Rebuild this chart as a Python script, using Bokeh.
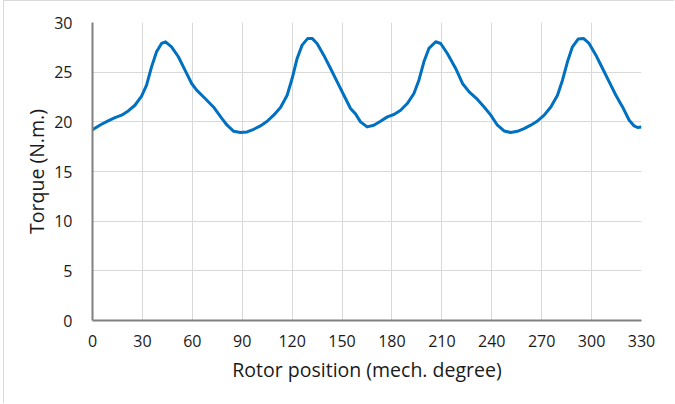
from bokeh.plotting import figure
from bokeh.models import Range1d, FixedTicker
from bokeh.embed import file_html
from bokeh.resources import INLINE

# Rotor position (mech. degree)
position = [0, 5.4, 9.4, 13.5, 17.5, 21.5, 25.5, 29.5, 32.5, 35.5, 38.5, 41.5, 43.9, 47.5,
            51.6, 55.6, 59.6, 62.6, 67.7, 72.7, 77.5, 80.9, 84.9, 88.9, 92.9, 96.9, 100.9,
            105, 108.9, 113, 117, 120, 123, 126, 129.4, 132, 135, 139, 143.1, 147.1, 151.1,
            155.1, 158.1, 161.1, 165.1, 169.1, 173.1, 177.2, 181.2, 185.2, 189.2, 193.2,
            196.2, 199.2, 202.2, 206.3, 209.3, 213.3, 218.3, 222.4, 226.4, 231.4, 235.4,
            239.4, 243.4, 247.4, 251.4, 255.4, 259.4, 263.4, 267.5, 271.5, 275.5, 279.5,
            282.5, 285.5, 288.5, 291.9, 295.1, 298.5, 302.6, 306.6, 310.6, 314.6, 318.6,
            322.6, 325.6, 327.6, 330]
# Torque (N.m.)
torque = [19.2, 19.76, 20.1, 20.43, 20.67, 21.1, 21.67, 22.58, 23.69, 25.53, 27.05, 27.89,
          28.06, 27.55, 26.55, 25.2, 23.86, 23.19, 22.35, 21.5, 20.4, 19.66, 19.05, 18.92,
          18.98, 19.25, 19.59, 20.06, 20.67, 21.44, 22.68, 24.36, 26.38, 27.72, 28.4, 28.4,
          27.89, 26.71, 25.37, 24.02, 22.68, 21.34, 20.8, 20.0, 19.49, 19.66, 20.06, 20.5,
          20.74, 21.17, 21.84, 22.85, 24.19, 26.04, 27.39, 28.06, 27.89, 26.88, 25.37, 23.86,
          23.01, 22.25, 21.5, 20.67, 19.66, 19.08, 18.92, 19.05, 19.32, 19.66, 20.09, 20.67,
          21.5, 22.68, 24.19, 26.04, 27.55, 28.33, 28.4, 27.89, 26.71, 25.37, 24.02, 22.68,
          21.5, 20.16, 19.59, 19.43, 19.49]

x_ticks = [0, 30, 60, 90, 120, 150, 180, 210, 240, 270, 300, 330]
y_ticks = [0, 5, 10, 15, 20, 25, 30]

FONT = "Open Sans"

p = figure(width=671, height=403, output_backend="svg", toolbar_location=None,
           x_range=Range1d(0, 330), y_range=Range1d(0, 30),
           min_border_left=88, min_border_right=34, min_border_top=21, min_border_bottom=84)
p.outline_line_color = None
p.background_fill_color = "white"
p.border_fill_color = "white"

p.line(position, torque, line_color="#0070C0", line_width=3, line_join="round")

for ax, ticks in ((p.xaxis, x_ticks), (p.yaxis, y_ticks)):
    ax.ticker = FixedTicker(ticks=ticks)
    ax.axis_line_color = "#808080"
    ax.axis_line_width = 2
    ax.major_tick_line_color = None
    ax.minor_tick_line_color = None
    ax.major_label_text_font = FONT
    ax.major_label_text_font_size = "16px"
    ax.major_label_text_color = "#1a1a1a"
    ax.axis_label_text_font = FONT
    ax.axis_label_text_font_size = "19.5px"
    ax.axis_label_text_font_style = "normal"
    ax.axis_label_text_color = "#1a1a1a"

p.xaxis.axis_label = "Rotor position (mech. degree)"
p.yaxis.axis_label = "Torque (N.m.)"
p.xaxis.major_label_standoff = 8
p.yaxis.major_label_standoff = 14
p.xaxis.axis_label_standoff = 6
p.yaxis.axis_label_standoff = 1

p.xgrid.ticker = FixedTicker(ticks=x_ticks)
p.ygrid.ticker = FixedTicker(ticks=y_ticks)
p.grid.grid_line_color = "#d9d9d9"
p.grid.grid_line_width = 1

p.styles = {"border-top": "1px solid #d9d9d9", "border-left": "1px solid #d9d9d9",
            "margin-left": "3px"}

open("out.html", "w").write(file_html(p, INLINE))
